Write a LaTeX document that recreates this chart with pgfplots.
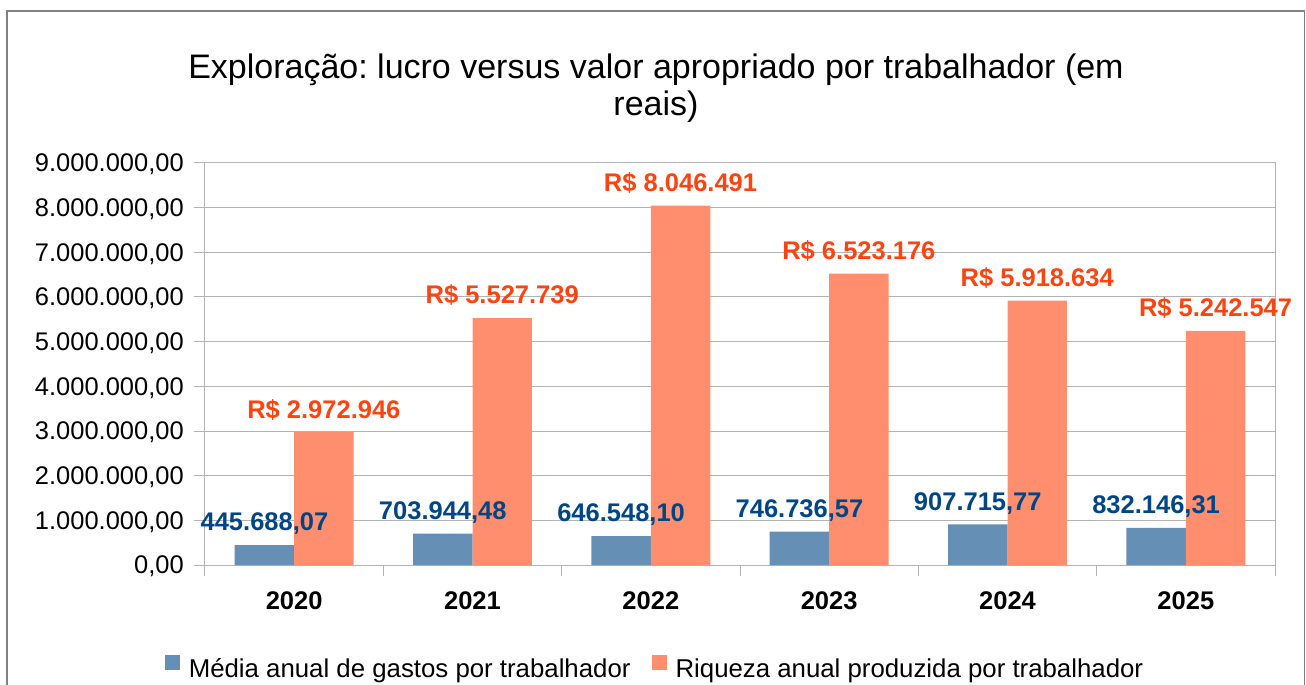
\documentclass[border=0pt]{standalone}
\usepackage{fontspec}
\setmainfont{Liberation Sans}
\usepackage{pgfplots}
\usepackage{pgfplotstable}
\pgfplotsset{compat=1.18}
\frenchspacing

\definecolor{barblue}{HTML}{668FB6}
\definecolor{barorange}{HTML}{FF8E6E}
\definecolor{lblblue}{HTML}{004586}
\definecolor{lblorange}{HTML}{FF420E}
\definecolor{gridgray}{HTML}{B3B3B3}
\definecolor{framegray}{HTML}{808080}

% media anual de gastos por trabalhador
\pgfplotstableread{
x y label
0 445688.07 445.688,07
1 703944.48 703.944,48
2 646548.10 646.548,10
3 746736.57 746.736,57
4 907715.77 907.715,77
5 832146.31 832.146,31
}\gastos

% riqueza anual produzida por trabalhador
\pgfplotstableread{
x y label
0 2972946 2.972.946
1 5527739 5.527.739
2 8046491 8.046.491
3 6523176 6.523.176
4 5918634 5.918.634
5 5242547 5.242.547
}\riqueza

\newcommand{\lbl}{\fontsize{25.5bp}{30bp}\selectfont}

\begin{document}
\begin{tikzpicture}[x=1bp,y=1bp]
% axis box lower left corner sits at (0,0); page is 1306 x 684
\useasboundingbox (-205,-119) rectangle (1101,565);
\draw[framegray, line width=1.5bp] (-198,554) rectangle (1099.5,-140);
\node[font=\fontsize{34bp}{37bp}\selectfont, align=center, anchor=north, inner sep=0pt]
  at (451,511) {Exploração: lucro versus valor apropriado por trabalhador (em\\reais)};
\begin{axis}[
  scale only axis, width=1070bp, height=402bp,
  ybar=0pt, bar width=0.3333,
  xmin=-0.5, xmax=5.5, ymin=0, ymax=9000000,
  clip=false,
  xtick={0,...,5}, xticklabels={2020,2021,2022,2023,2024,2025},
  minor xtick={-0.5,0.5,...,5.5},
  major x tick style={draw=none},
  ytick={0,1000000,...,9000000},
  tick pos=left, tick align=outside,
  major tick length=11bp, minor tick length=11bp,
  tick style={gridgray, line width=1bp},
  axis line style={gridgray, line width=1bp},
  ymajorgrids, grid style={gridgray, line width=1bp},
  scaled y ticks=false,
  yticklabel style={/pgf/number format/fixed, /pgf/number format/fixed zerofill,
    /pgf/number format/precision=2, /pgf/number format/1000 sep={.},
    /pgf/number format/dec sep={,}, /pgf/number format/assume math mode=true},
  y tick label style={font=\lbl, anchor=east, inner sep=0pt, text depth=0pt, xshift=-10bp},
  x tick label style={font=\lbl\bfseries, anchor=base, inner sep=0pt, yshift=-33bp},
  legend style={draw=none, fill=none, at={(0.4196,-0.2239)}, anchor=north,
    font=\fontsize{25.8bp}{30bp}\selectfont, inner sep=0pt, nodes={inner sep=0pt},
    /tikz/every even column/.append style={column sep=21bp},
    /tikz/every odd column/.append style={column sep=9bp}},
  legend columns=2,
  legend image code/.code={\fill[#1] (0bp,-1bp) rectangle (15bp,14bp);},
]
\addplot[fill=barblue, draw=none, nodes near coords, point meta=explicit symbolic,
  every node near coord/.append style={font=\lbl\bfseries, text=lblblue,
    inner sep=0pt, text depth=0pt, anchor=south, yshift=14bp}]
  table[x=x, y=y, meta=label] {\gastos};
\addplot[fill=barorange, draw=none, nodes near coords={R\$ \pgfplotspointmeta},
  point meta=explicit symbolic,
  every node near coord/.append style={font=\lbl\bfseries, text=lblorange,
    inner sep=0pt, text depth=0pt, anchor=south, yshift=14bp}]
  table[x=x, y=y, meta=label] {\riqueza};
\legend{Média anual de gastos por trabalhador, Riqueza anual produzida por trabalhador}
\end{axis}
\end{tikzpicture}
\end{document}
